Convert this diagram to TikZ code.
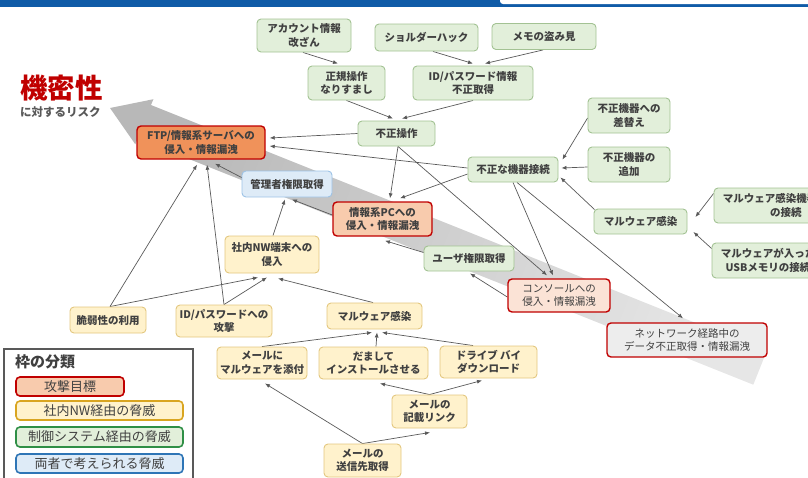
\documentclass[tikz,border=0pt]{standalone}
\usepackage{fontspec}
\setmainfont{Noto Sans CJK JP}
\usetikzlibrary{arrows.meta,calc}
\pgfdeclarelayer{band}
\pgfdeclarelayer{bg}
\pgfsetlayers{band,bg,main}
\definecolor{topblue}{HTML}{0F5BA7}
\definecolor{txt}{HTML}{404040}
\definecolor{gfill}{HTML}{E2EFDA}
\definecolor{gdraw}{HTML}{A3C293}
\definecolor{yfill}{HTML}{FFF2CC}
\definecolor{ydraw}{HTML}{E3C77F}
\definecolor{bfill}{HTML}{DEEBF7}
\definecolor{bdraw}{HTML}{9DC3E6}
\definecolor{rdraw}{HTML}{C00000}
\definecolor{ftpfill}{HTML}{F0925A}
\definecolor{pcfill}{HTML}{F8CBAD}
\definecolor{confill}{HTML}{FBE3D6}
\definecolor{netfill}{HTML}{EDEDED}
\definecolor{arrcol}{HTML}{595959}
\definecolor{bandA}{HTML}{B8B8B8}
\definecolor{bandB}{HTML}{E6E6E6}
\definecolor{legy}{HTML}{D9A520}
\definecolor{legg}{HTML}{2F8F46}
\definecolor{legb}{HTML}{2E75B6}
\definecolor{frame}{HTML}{595959}
\tikzset{
  box/.style={rounded corners=4pt, draw, line width=0.9pt, inner sep=0pt, align=center,
    font=\fontsize{10.5}{13.5}\selectfont\bfseries, text=txt},
  gbox/.style={box, fill=gfill, draw=gdraw},
  ybox/.style={box, fill=yfill, draw=ydraw},
  bbox/.style={box, fill=bfill, draw=bdraw},
  rbox/.style={box, draw=rdraw, line width=1.4pt},
  lgbox/.style={rounded corners=4pt, line width=1.6pt, inner sep=0pt,
    font=\fontsize{13}{13}\selectfont, text=txt},
  arr/.style={draw=arrcol, line width=0.7pt, -{Latex[length=5pt,width=4pt]}}
}
\begin{document}
\begin{tikzpicture}[x=1pt,y=-1pt]
\useasboundingbox (0,0) rectangle (808,477);
\clip (0,0) rectangle (808,477);
% top bar
\fill[topblue] (0,0) rectangle (808,7);
\fill[white, rounded corners=3pt] (500,-6) rectangle (815,4);
% title
\node[anchor=west, inner sep=0pt, text=rdraw, font=\fontsize{27.5}{27.5}\selectfont\bfseries] (t1) at (20,88) {機密性};
\node[anchor=west, inner sep=0pt, text=arrcol, font=\fontsize{11.5}{11.5}\selectfont\bfseries] (t2) at (20,112) {に対するリスク};
% band arrow
\begin{pgfonlayer}{band}
\shade[top color=bandA, bottom color=bandB, shading angle=68.2]
  (110,108) -- (153.4,99.2) -- (151.0,105.0) -- (766.6,351.3) -- (753.3,384.7)
  -- (137.7,138.5) -- (135.3,144.3) -- cycle;
\end{pgfonlayer}
% green nodes
\node[gbox, minimum width=94pt, minimum height=33pt] (acc) at (304,35.5) {アカウント情報\\改ざん};
\node[gbox, minimum width=103pt, minimum height=27pt] (shoulder) at (426.5,37.5) {ショルダーハック};
\node[gbox, minimum width=104pt, minimum height=26pt] (memo) at (544,36.5) {メモの盗み見};
\node[gbox, minimum width=77pt, minimum height=34pt] (seiki) at (346.5,83) {正規操作\\なりすまし};
\node[gbox, minimum width=120pt, minimum height=34pt] (idinfo) at (473,83) {ID/パスワード情報\\不正取得};
\node[gbox, minimum width=77pt, minimum height=25pt] (fusei) at (396.5,133.5) {不正操作};
\node[gbox, minimum width=90pt, minimum height=25pt] (kiki) at (513,169.5) {不正な機器接続};
\node[gbox, minimum width=82pt, minimum height=35pt] (sashikae) at (629,115.5) {不正機器への\\差替え};
\node[gbox, minimum width=82pt, minimum height=35pt] (tsuika) at (629,164.5) {不正機器の\\追加};
\node[gbox, minimum width=93pt, minimum height=25pt] (malg) at (640.5,221.5) {マルウェア感染};
\node[gbox, minimum width=112pt, minimum height=35pt] (malkiki) at (770,205.5) {マルウェア感染機器\\\hspace*{3em}の接続};
\node[gbox, minimum width=112pt, minimum height=35pt] (usb) at (768,260.5) {マルウェアが入った\\USBメモリの接続};
\node[gbox, minimum width=90pt, minimum height=25pt] (user) at (469,258.5) {ユーザ権限取得};
% blue
\node[bbox, minimum width=90pt, minimum height=26pt] (kanri) at (287,184) {管理者権限取得};
% red targets
\node[rbox, fill=ftpfill, minimum width=128pt, minimum height=33pt] (ftp) at (201,142.5) {FTP/情報系サーバへの\\侵入・情報漏洩};
\node[rbox, fill=pcfill, minimum width=99pt, minimum height=34pt] (pc) at (382.5,219) {情報系PCへの\\侵入・情報漏洩};
\node[rbox, fill=confill, minimum width=102pt, minimum height=33pt, font=\fontsize{10.5}{13.5}\selectfont] (console) at (559,295.5) {コンソールへの\\侵入・情報漏洩};
\node[rbox, fill=netfill, minimum width=160pt, minimum height=34pt, font=\fontsize{10.5}{13.5}\selectfont] (network) at (687,340) {ネットワーク経路中の\\データ不正取得・情報漏洩};
% yellow
\node[ybox, minimum width=94pt, minimum height=37pt] (shanai) at (272,254.5) {社内NW端末への\\侵入};
\node[ybox, minimum width=76pt, minimum height=26pt] (zeija) at (108,320) {脆弱性の利用};
\node[ybox, minimum width=96pt, minimum height=32pt] (idatk) at (224,321) {ID/パスワードへの\\攻撃};
\node[ybox, minimum width=95pt, minimum height=26pt] (maly) at (374.5,316) {マルウェア感染};
\node[ybox, minimum width=90pt, minimum height=32pt] (mailatt) at (262,363) {メールに\\マルウェアを添付};
\node[ybox, minimum width=109pt, minimum height=32pt] (damashi) at (373.5,363) {だまして\\インストールさせる};
\node[ybox, minimum width=97pt, minimum height=32pt] (drive) at (488.5,362) {ドライブ バイ\\ダウンロード};
\node[ybox, minimum width=75pt, minimum height=33pt] (link) at (429.5,411.5) {メールの\\記載リンク};
\node[ybox, minimum width=77pt, minimum height=33pt] (sender) at (362.5,460.5) {メールの\\送信先取得};
% arrows
\begin{pgfonlayer}{bg}
\draw[arr] ($(acc.south)+(-1,0)$) -- ($(seiki.north)+(-8.5,-2)$);
\draw[arr] ($(shoulder.south)+(6.5,0)$) -- ($(idinfo.north)+(0,-2)$);
\draw[arr] ($(memo.south)+(-1,0)$) -- ($(idinfo.north)+(12,-2)$);
\draw[arr] (seiki.south) -- ($(fusei.north)+(-3.5,-2)$);
\draw[arr] (idinfo.south) -- ($(fusei.north)+(5.5,-2)$);
\draw[arr] (fusei.west) -- ($(ftp.east)+(4,-4.5)$);
\draw[arr] ($(kiki.west)+(0,-1.5)$) -- ($(ftp.east)+(4,3.5)$);
\draw[arr] ($(fusei.south)+(1.5,0)$) -- ($(pc.north)+(7.5,-3)$);
\draw[arr] ($(fusei.south)+(1.5,0)$) -- ($(console.north)+(-12,-3)$);
\draw[arr] ($(kiki.west)+(0,4.5)$) -- ($(pc.north)+(17.5,-3)$);
\draw[arr] (kiki.south) -- ($(console.north)+(-6,-3)$);
\draw[arr] ($(kiki.south)+(4,0)$) -- ($(network.north)+(-4,-4)$);
\draw[arr] ($(sashikae.west)+(0,2.5)$) -- ($(kiki.north east)+(4,3)$);
\draw[arr] ($(tsuika.west)+(0,2.5)$) -- ($(kiki.east)+(3,-1.5)$);
\draw[arr] ($(malg.north west)+(1,1)$) -- ($(kiki.south east)+(2,-5)$);
\draw[arr] ($(malkiki.west)+(0,-12)$) -- ($(malg.east)+(8,-4.5)$);
\draw[arr] ($(usb.west)+(0,-12)$) -- ($(malg.east)+(6,10.5)$);
\draw[arr] ($(user.west)+(0,-6)$) -- ($(pc.south)+(2.5,4)$);
\draw[arr] ($(console.west)+(0,1.5)$) -- ($(user.south)+(1,2)$);
\draw[arr] ($(kanri.west)+(1,-6)$) -- ($(ftp.south)+(14,4)$);
\draw[arr] ($(shanai.north)+(1,0)$) -- ($(kanri.south)+(-2,2)$);
\draw[arr] ($(pc.west)+(0,-4)$) -- ($(kanri.south)+(5,2)$);
\draw[arr] ($(zeija.north)+(2,0)$) -- ($(ftp.south)+(-4,5)$);
\draw[arr] (idatk.north) -- ($(ftp.south)+(6,5)$);
\draw[arr] ($(zeija.north)+(2,0)$) -- ($(shanai.south)+(-14,4)$);
\draw[arr] (idatk.north) -- ($(shanai.south)+(-5,4)$);
\draw[arr] ($(maly.north)+(-1.5,0)$) -- ($(shanai.south)+(6,5)$);
\draw[arr] (mailatt.north) -- ($(maly.south)+(-2.5,3)$);
\draw[arr] ($(damashi.north)+(2.5,0)$) -- ($(maly.south)+(2.5,3)$);
\draw[arr] ($(drive.north)+(-15.5,0)$) -- ($(maly.south)+(7.5,3)$);
\draw[arr] (link.north) -- ($(damashi.south)+(6.5,4)$);
\draw[arr] (link.north) -- ($(drive.south)+(-6.5,2)$);
\draw[arr] (sender.north) -- ($(mailatt.south)+(3,4)$);
\draw[arr] (sender.north) -- ($(link.south)+(0.5,4)$);
\end{pgfonlayer}
% legend
\draw[draw=frame, line width=1.5pt, fill=white] (4,349) rectangle (193,500);
\node[anchor=west, inner sep=0pt, text=txt, font=\fontsize{15}{15}\selectfont\bfseries] (legt) at (15,362) {枠の分類};
\node[lgbox, draw=rdraw, fill=pcfill, minimum width=108pt, minimum height=19pt] (l1) at (70,386.5) {攻撃目標};
\node[lgbox, draw=legy, fill=yfill, minimum width=167pt, minimum height=19pt] (l2) at (99.5,410.5) {社内NW経由の脅威};
\node[lgbox, draw=legg, fill=gfill, minimum width=167pt, minimum height=20pt] (l3) at (99.5,437) {制御システム経由の脅威};
\node[lgbox, draw=legb, fill=bfill, minimum width=167pt, minimum height=19pt] (l4) at (99.5,463.5) {両者で考えられる脅威};
\end{tikzpicture}
\end{document}
